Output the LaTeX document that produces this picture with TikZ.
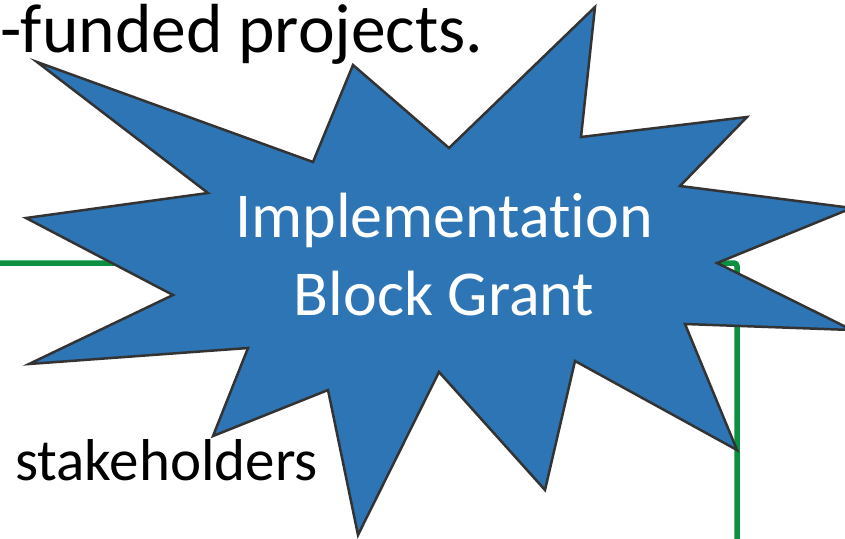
\documentclass[tikz,border=0pt]{standalone}
\usepackage{fontspec}
\setmainfont{Carlito}[Ligatures={NoCommon}]
\definecolor{starblue}{HTML}{2E75B6}
\definecolor{staredge}{HTML}{333333}
\definecolor{linegreen}{HTML}{0B8F40}
\begin{document}
\begin{tikzpicture}[x=1pt,y=-1pt,
  greenline/.style={draw=linegreen,line width=5.5pt,rounded corners=3pt},
  starshape/.style={fill=starblue,draw=staredge,line width=2.5pt,line join=miter},
  bodytext/.style={inner sep=0pt,anchor=base west,text=black}]
\useasboundingbox (0,0) rectangle (845,538);
\clip (0,0) rectangle (845,538);
\fill[white] (0,0) rectangle (845,538);
% green connector lines behind the star
\coordinate (gl) at (-5,263);
\coordinate (gc) at (737,263);
\coordinate (gb) at (737,545);
\draw[greenline] (gl) -- (gc) -- (gb);
% starburst
\draw[starshape] (37,62) -- (313,162) -- (353,65) -- (449,148) -- (595,7) -- (581,137)
  -- (747,117) -- (680,186) -- (852,208) -- (717,263) -- (852,330) -- (685,324)
  -- (737,450) -- (575,361) -- (545,490) -- (439,372) -- (358,535) -- (328,390)
  -- (213,436) -- (248,348) -- (29,364) -- (173,295) -- (26,218) -- (208,193) -- cycle;
\node[text=white,align=center,font=\fontsize{64}{78}\selectfont,inner sep=0pt,anchor=base]
  (ibg) at (444,315) {Implementation\\Block Grant};
\node[bodytext,font=\fontsize{69.5}{80}\selectfont] (fp) at (0,52) {-funded projects.};
\node[bodytext,font=\fontsize{59}{66}\selectfont] (sh) at (15,480) {stakeholders};
\end{tikzpicture}
\end{document}
